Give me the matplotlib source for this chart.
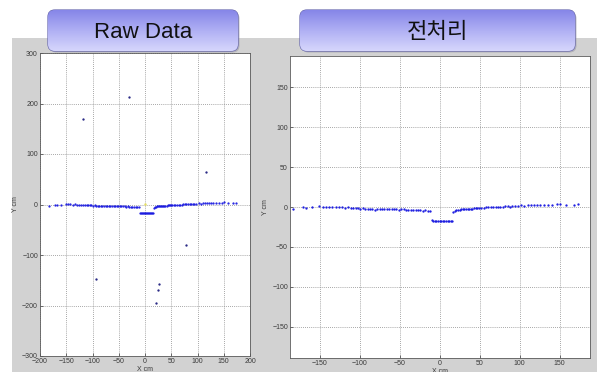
import numpy as np
import matplotlib
matplotlib.use('Agg')
import matplotlib.pyplot as plt
from matplotlib.patches import FancyBboxPatch, Rectangle

plt.rcParams['font.family'] = ['Liberation Sans', 'Noto Sans CJK KR', 'DejaVu Sans']

# laser scan of the wall (cm), shared by both panels
scan_x = [-183, -171, -167, -160, -151, -146, -142, -138, -134, -130, -126, -122,
          -118, -115, -111, -108, -105, -102, -99, -96, -93, -90, -87, -84, -81,
          -78, -75, -72, -69, -66, -63, -60, -57, -54, -51, -48, -45, -42, -39,
          -36, -33, -30, -27, -24, -21, -18, -15, -12,
          -10, -8, -6, -4, -2, 0, 2, 4, 6, 8, 10, 12, 14, 16,
          17, 19, 21, 23, 25, 27, 29, 31, 33, 35, 37, 39, 41, 43, 45, 47, 49,
          52, 55, 58, 61, 64, 67, 70, 73, 76, 79, 82, 85, 88, 91, 94, 98, 102,
          106, 110, 114, 118, 122, 126, 130, 136, 141, 147, 150, 158, 168, 173]
scan_y = [-3, 0, -1, -0.5, 1, 0.5, 0.5, 0, 0.5, 0, -0.5, 0,
          -1, -0.5, -1.5, -1, -1.5, -1, -2, -1.5, -2.5, -2, -3, -2.5, -3.5,
          -2.5, -2.5, -2, -2.5, -2.5, -3, -2.5, -3, -3, -3.5, -3, -3, -3.5, -3.5,
          -4, -3.5, -4, -4, -4, -4.5, -4, -4.5, -4.5,
          -16.5, -17.5, -17.5, -17.5, -17.5, -17.5, -17.5, -17.5, -17.5, -17.5, -17.5, -17.5, -17.5, -17.5,
          -6, -4.5, -4, -3.5, -3.5, -3, -3, -2.5, -2.5, -2.5, -2, -2, -2, -1.5, -1.5, -1.5, -1,
          -1, -1, -0.5, -0.5, 0, 0, 0, 0.5, 0.5, 0.5, 1, 1, 0.5, 1.5, 1, 1.5, 2,
          1.5, 2, 2.5, 2, 2.5, 3, 2.5, 3, 3, 3.5, 4, 3, 2, 3.5]

# stray returns that only show up in the raw data
noise_x = [-118, -30, 116, 78, -93, 26, 25, 21]
noise_y = [170, 213, 65, -80, -147, -158, -169, -196]

titles = ['Raw Data', '전처리']
left_xticks = [-200, -150, -100, -50, 0, 50, 100, 150, 200]
left_yticks = [-300, -200, -100, 0, 100, 200, 300]
right_xticks = [-150, -100, -50, 0, 50, 100, 150]
right_yticks = [-150, -100, -50, 0, 50, 100, 150]

W, H = 599, 372
fig = plt.figure(figsize=(W / 100, H / 100), dpi=100)
fig.patch.set_facecolor('white')


def px(x0, y0, w, h):
    # pixel box (from top-left) -> figure fraction rect
    return [x0 / W, (H - y0 - h) / H, w / W, h / H]


# gray panel background
bg = fig.add_axes([0, 0, 1, 1])
bg.set_xlim(0, W)
bg.set_ylim(H, 0)
bg.axis('off')
bg.add_patch(Rectangle((12, 38), W - 14, H - 38, color='#d2d2d2', lw=0))


def style_axes(ax, xticks, yticks):
    ax.set_xticks(xticks)
    ax.set_yticks(yticks)
    ax.grid(True, color='#8a8a8a', linestyle=(0, (1, 1.5)), linewidth=0.6)
    ax.tick_params(direction='in', length=2, width=0.5, labelsize=5,
                   colors='#3a3a3a', pad=1.5)
    for s in ax.spines.values():
        s.set_color('#5a5a5a')
        s.set_linewidth(0.6)
    ax.set_xlabel('X cm', fontsize=5, color='#3a3a3a', labelpad=1)
    ax.set_ylabel('Y cm', fontsize=5, color='#3a3a3a', labelpad=2)


ax1 = fig.add_axes(px(40, 53, 210, 303))
ax1.plot(scan_x, scan_y, '.', color='#1818e0', ms=1.2)
ax1.plot(noise_x, noise_y, '.', color='#202080', ms=1.3)
ax1.plot([0], [1], '.', color='#e8e060', ms=1.5)
ax1.set_xlim(-200, 200)
ax1.set_ylim(-300, 300)
style_axes(ax1, left_xticks, left_yticks)

ax2 = fig.add_axes(px(290, 56, 300, 302))
ax2.plot(scan_x, scan_y, '.', color='#1818e0', ms=1.3)
ax2.set_xlim(-187, 188)
ax2.set_ylim(-189, 189)
style_axes(ax2, right_xticks, right_yticks)

# rounded gradient title tabs
grad = np.linspace(0, 1, 64).reshape(-1, 1)
cmap = matplotlib.colors.LinearSegmentedColormap.from_list(
    'tab', ['#8686e8', '#b0b0f4', '#d6d6fc'])
for (x0, x1), label in zip([(48, 238), (300, 575)], titles):
    shadow = FancyBboxPatch((x0 + 1.5, 11.5), x1 - x0, 41,
                            boxstyle='round,pad=0,rounding_size=7',
                            fc='#9a9aa8', ec='none', alpha=0.6)
    bg.add_patch(shadow)
    box = FancyBboxPatch((x0, 10), x1 - x0, 41,
                         boxstyle='round,pad=0,rounding_size=7',
                         fc='none', ec='#6a6ab0', lw=0.9)
    bg.add_patch(box)
    im = bg.imshow(grad, cmap=cmap, extent=(x0, x1, 51, 10), aspect='auto',
                   zorder=1)
    im.set_clip_path(box)
    bg.text((x0 + x1) / 2, 33, label, ha='center', va='center',
            fontsize=16, color='#111111', zorder=3)
bg.set_xlim(0, W)
bg.set_ylim(H, 0)

fig.savefig('out.png', dpi=100)
